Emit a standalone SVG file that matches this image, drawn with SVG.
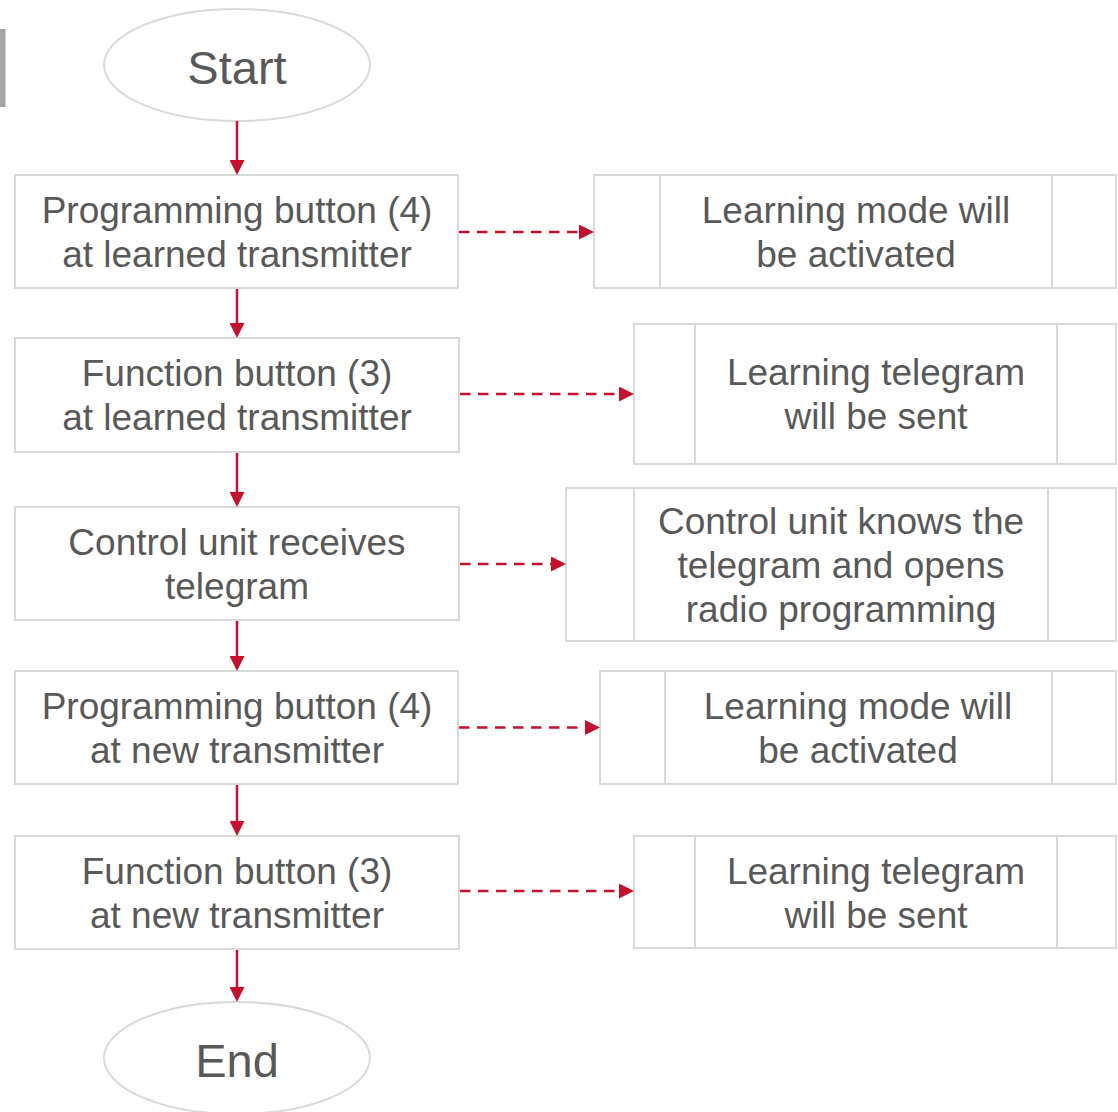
<svg xmlns="http://www.w3.org/2000/svg" width="1118" height="1112" viewBox="0 0 1118 1112">
<defs>
<style>
.box{fill:#ffffff;stroke:#d9d9d9;stroke-width:2}
.div{stroke:#d9d9d9;stroke-width:2;fill:none}
.t{font-family:"Liberation Sans",Arial,sans-serif;font-size:37px;fill:#595959;text-anchor:middle}
.tb{font-family:"Liberation Sans",Arial,sans-serif;font-size:47px;fill:#595959;text-anchor:middle}
.flow{stroke:#c8102e;stroke-width:2.5;fill:none}
.dash{stroke:#c8102e;stroke-width:2.5;fill:none;stroke-dasharray:10.5 7.5}
</style>
<marker id="ah" viewBox="0 0 15 15" markerWidth="15" markerHeight="15" markerUnits="userSpaceOnUse" refX="3" refY="7.5" orient="auto">
<path d="M0,0 L15,7.5 L0,15 z" fill="#c8102e"/>
</marker>
</defs>
<rect x="0" y="29" width="5.5" height="78" fill="#a6a6a6"/>
<g id="start"><ellipse class="box" cx="237" cy="65" rx="133" ry="56"/><text class="tb" x="237" y="84">Start</text></g>
<g id="b1"><rect class="box" x="15" y="175" width="443" height="113"/><text class="t" x="237" y="223">Programming button (4)</text><text class="t" x="237" y="267">at learned transmitter</text></g>
<g id="b2"><rect class="box" x="15" y="338" width="444" height="114"/><text class="t" x="237" y="386">Function button (3)</text><text class="t" x="237" y="430">at learned transmitter</text></g>
<g id="b3"><rect class="box" x="15" y="507" width="444" height="113"/><text class="t" x="237" y="555">Control unit receives</text><text class="t" x="237" y="599">telegram</text></g>
<g id="b4"><rect class="box" x="15" y="671" width="443" height="113"/><text class="t" x="237" y="719">Programming button (4)</text><text class="t" x="237" y="763">at new transmitter</text></g>
<g id="b5"><rect class="box" x="15" y="836" width="444" height="113"/><text class="t" x="237" y="884">Function button (3)</text><text class="t" x="237" y="928">at new transmitter</text></g>
<g id="end"><ellipse class="box" cx="237" cy="1058" rx="133" ry="56"/><text class="tb" x="237" y="1077">End</text></g>
<g id="r1"><rect class="box" x="594" y="175" width="522" height="113"/><path class="div" d="M660,175V288M1052,175V288"/><text class="t" x="856" y="223">Learning mode will</text><text class="t" x="856" y="267">be activated</text></g>
<g id="r2"><rect class="box" x="634" y="324" width="482" height="140"/><path class="div" d="M695,324V464M1057,324V464"/><text class="t" x="876" y="385">Learning telegram</text><text class="t" x="876" y="429">will be sent</text></g>
<g id="r3"><rect class="box" x="566" y="488" width="550" height="153"/><path class="div" d="M634,488V641M1048,488V641"/><text class="t" x="841" y="534">Control unit knows the</text><text class="t" x="841" y="578">telegram and opens</text><text class="t" x="841" y="622">radio programming</text></g>
<g id="r4"><rect class="box" x="600" y="671" width="516" height="113"/><path class="div" d="M665,671V784M1052,671V784"/><text class="t" x="858" y="719">Learning mode will</text><text class="t" x="858" y="763">be activated</text></g>
<g id="r5"><rect class="box" x="634" y="836" width="482" height="112"/><path class="div" d="M695,836V948M1057,836V948"/><text class="t" x="876" y="884">Learning telegram</text><text class="t" x="876" y="928">will be sent</text></g>
<g id="connectors">
<path class="flow" d="M237,121V163" marker-end="url(#ah)"/>
<path class="flow" d="M237,289V326" marker-end="url(#ah)"/>
<path class="flow" d="M237,453V495" marker-end="url(#ah)"/>
<path class="flow" d="M237,621V659" marker-end="url(#ah)"/>
<path class="flow" d="M237,785V824" marker-end="url(#ah)"/>
<path class="flow" d="M237,950V990" marker-end="url(#ah)"/>
<path class="dash" d="M459,232H582" marker-end="url(#ah)"/>
<path class="dash" d="M460,394H622" marker-end="url(#ah)"/>
<path class="dash" d="M460,564H554" marker-end="url(#ah)"/>
<path class="dash" d="M459,727.5H588" marker-end="url(#ah)"/>
<path class="dash" d="M460,891H622" marker-end="url(#ah)"/>
</g>
</svg>
